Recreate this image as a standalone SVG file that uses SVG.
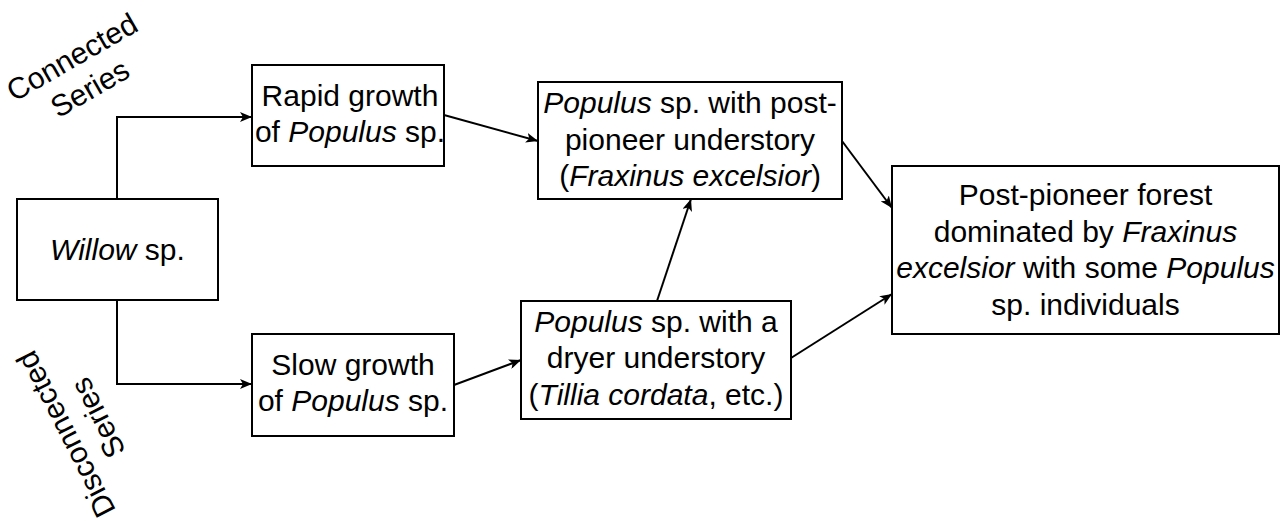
<svg xmlns="http://www.w3.org/2000/svg" width="1285" height="521" viewBox="0 0 1285 521">
<style>
.box{fill:#fff;stroke:#000;stroke-width:2}
.t{font-family:"Liberation Sans",Arial,sans-serif;font-size:30px;fill:#000;text-anchor:middle}
.i{font-style:italic}
.c{fill:none;stroke:#000;stroke-width:2}
</style>
<defs>
<marker id="arr" viewBox="0 0 12 10" refX="12" refY="5" markerWidth="12" markerHeight="10" markerUnits="userSpaceOnUse" orient="auto">
<path d="M0,0 L12,5 L0,10 L3,5 Z" fill="#000"/>
</marker>
</defs>
<rect width="1285" height="521" fill="#fff"/>
<g id="connectors">
<path class="c" d="M117,199 V117 H252" marker-end="url(#arr)"/>
<path class="c" d="M117,300 V384 H252" marker-end="url(#arr)"/>
<path class="c" d="M444,115 L538,141" marker-end="url(#arr)"/>
<path class="c" d="M454,385 L521,360" marker-end="url(#arr)"/>
<path class="c" d="M657,301 L691,199" marker-end="url(#arr)"/>
<path class="c" d="M842,141 L892,208" marker-end="url(#arr)"/>
<path class="c" d="M791,358 L892,294" marker-end="url(#arr)"/>
</g>
<g id="willow">
<rect class="box" x="17" y="199" width="201" height="101"/>
<text class="t" x="117.5" y="260"><tspan class="i">Willow</tspan> sp.</text>
</g>
<g id="rapid">
<rect class="box" x="252" y="65" width="192" height="101"/>
<text class="t" x="350" y="106">Rapid growth</text>
<text class="t" x="350" y="142">of <tspan class="i">Populus</tspan> sp.</text>
</g>
<g id="slow">
<rect class="box" x="252" y="334" width="202" height="102"/>
<text class="t" x="353" y="375">Slow growth</text>
<text class="t" x="353" y="411">of <tspan class="i">Populus</tspan> sp.</text>
</g>
<g id="postpioneer">
<rect class="box" x="538" y="82" width="304" height="117"/>
<text class="t" x="690" y="113"><tspan class="i">Populus</tspan> sp. with post-</text>
<text class="t" x="690" y="150">pioneer understory</text>
<text class="t" x="690" y="186">(<tspan class="i">Fraxinus excelsior</tspan>)</text>
</g>
<g id="dryer">
<rect class="box" x="521" y="301" width="270" height="118"/>
<text class="t" x="656" y="332"><tspan class="i">Populus</tspan> sp. with a</text>
<text class="t" x="656" y="368">dryer understory</text>
<text class="t" x="656" y="405">(<tspan class="i">Tillia cordata</tspan>, etc.)</text>
</g>
<g id="final">
<rect class="box" x="892" y="166" width="387" height="168"/>
<text class="t" x="1085.5" y="205">Post-pioneer forest</text>
<text class="t" x="1085.5" y="242">dominated by <tspan class="i">Fraxinus</tspan></text>
<text class="t" x="1085.5" y="278"><tspan class="i">excelsior</tspan> with some <tspan class="i">Populus</tspan></text>
<text class="t" x="1085.5" y="315">sp. individuals</text>
</g>
<g id="connected-label" transform="translate(81,73) rotate(-30)">
<text class="t" x="0" y="-8">Connected</text>
<text class="t" x="0" y="28">Series</text>
</g>
<g id="disconnected-label" transform="translate(82,426) rotate(-117)">
<text class="t" x="0" y="-8">Disconnected</text>
<text class="t" x="0" y="28">Series</text>
</g>
</svg>
